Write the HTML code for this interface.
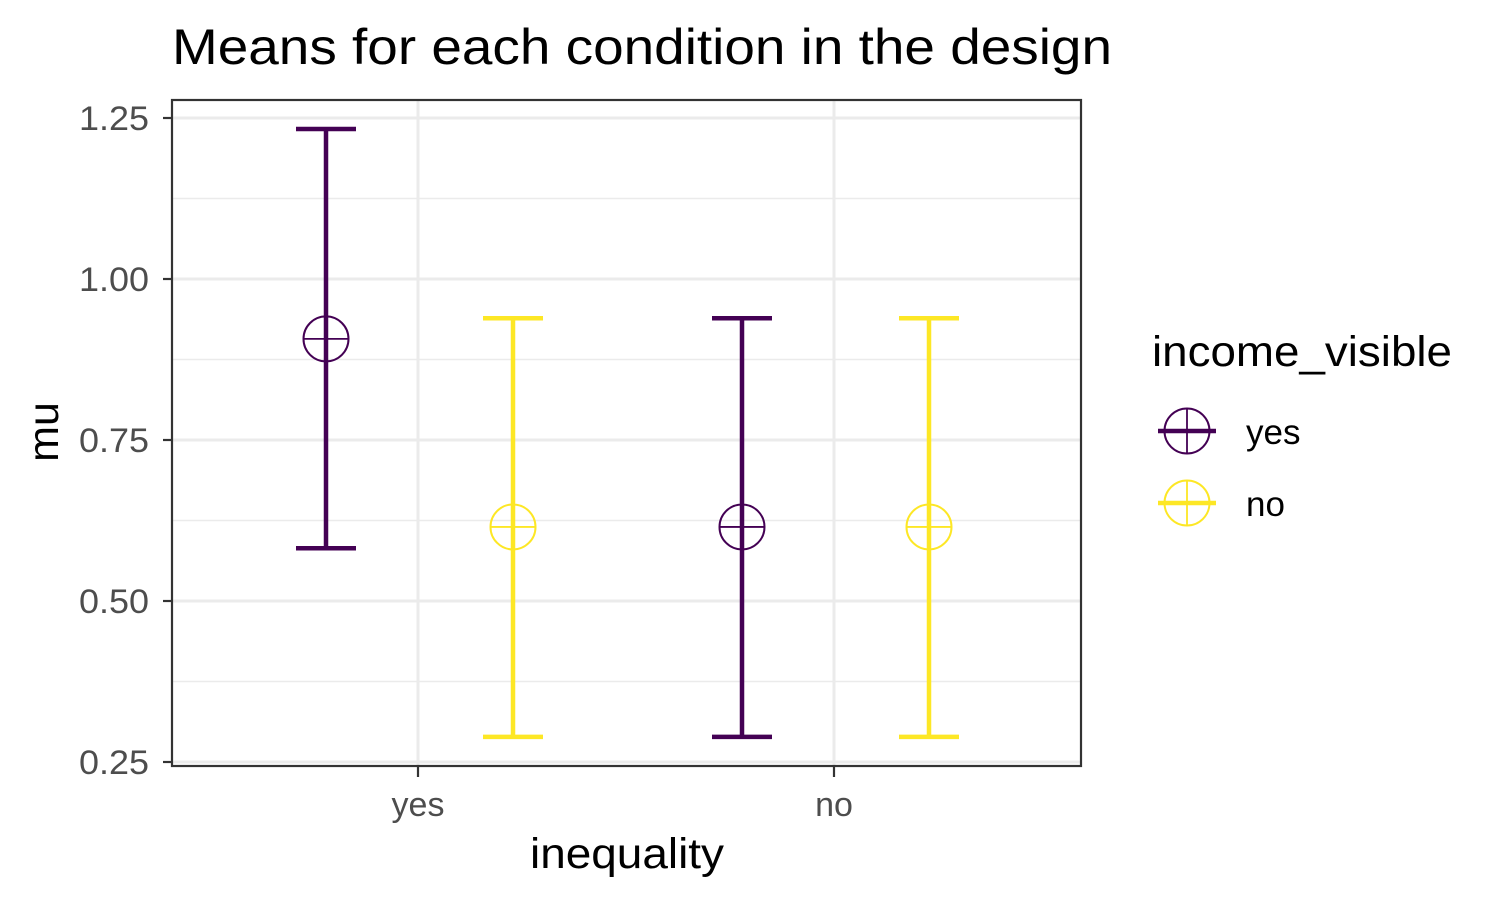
<!DOCTYPE html>
<html><head><meta charset="utf-8"><style>
body{margin:0;background:#fff;}
svg text{font-family:"Liberation Sans",Arial,sans-serif;}
</style></head><body>
<svg width="1500" height="900" viewBox="0 0 1500 900" xmlns="http://www.w3.org/2000/svg">
<rect width="1500" height="900" fill="#fff"/>
<text x="172" y="64" font-size="50" textLength="940" lengthAdjust="spacingAndGlyphs" fill="#000">Means for each condition in the design</text>
<g id="grid"></g>
<g id="marks"></g>
<rect x="172" y="100" width="909" height="666" fill="none" stroke="#333" stroke-width="2.2"/>
<g id="axes"></g>
<text x="530" y="868" font-size="43" textLength="194" lengthAdjust="spacingAndGlyphs" fill="#000">inequality</text>
<text transform="translate(58,432) rotate(-90)" font-size="43" text-anchor="middle" fill="#000">mu</text>
<text x="1152" y="366" font-size="43" textLength="300" lengthAdjust="spacingAndGlyphs" fill="#000">income_visible</text>
<g id="legend"></g>
</svg>
<script>
const categories = ["yes","no"];
const seriesNames = ["yes","no"];
const seriesColors = ["#440154","#FDE725"];
const means = [[0.907, 0.615],[0.615, 0.615]]; // [series][category]
const lowers = [[0.582, 0.289],[0.289, 0.289]];
const uppers = [[1.233, 0.939],[0.939, 0.939]];
const yTicks = [0.25, 0.50, 0.75, 1.00, 1.25];
const yTickLabels = ["0.25","0.50","0.75","1.00","1.25"];

const NS="http://www.w3.org/2000/svg";
function yScale(v){return 762 - (v-0.25)*644;}
function xScale(i){return 418 + i*416;}
const dodge=[-92, 95];
function mk(parent,tag,attrs){const e=document.createElementNS(NS,tag);for(const k in attrs)e.setAttribute(k,attrs[k]);parent.appendChild(e);return e;}
const grid=document.getElementById('grid'), axes=document.getElementById('axes'), marks=document.getElementById('marks'), legend=document.getElementById('legend');
for(let i=0;i<yTicks.length;i++){
  const y=yScale(yTicks[i]);
  const g=mk(grid,'line',{x1:172,x2:1081,y1:y,y2:y,stroke:'#ebebeb','stroke-width':3});
  
  
  if(i<yTicks.length-1){const ym=yScale((yTicks[i]+yTicks[i+1])/2);
    const m=mk(grid,'line',{x1:172,x2:1081,y1:ym,y2:ym,stroke:'#ebebeb','stroke-width':1.5});
    
    }
  const t=mk(axes,'line',{x1:163,x2:172,y1:y,y2:y,stroke:'#333','stroke-width':2.2});
  
  
  const l=mk(axes,'text',{x:149,y:y+12,'font-size':34,'text-anchor':'end',fill:'#4d4d4d',textLength:70,lengthAdjust:'spacingAndGlyphs'});l.textContent=yTickLabels[i];
  
  
}
categories.forEach((c,i)=>{
  const x=xScale(i);
  const g=mk(grid,'line',{x1:x,x2:x,y1:100,y2:766,stroke:'#ebebeb','stroke-width':3});
  
  
  const t=mk(axes,'line',{x1:x,x2:x,y1:766,y2:777,stroke:'#333','stroke-width':2.2});
  
  
  const l=mk(axes,'text',{x:x,y:816,'font-size':34,'text-anchor':'middle',fill:'#4d4d4d'});l.textContent=c;
  
  
});
seriesNames.forEach((s,si)=>{
  const col=seriesColors[si];
  categories.forEach((c,ci)=>{
    const x=xScale(ci)+dodge[si];
    const g=mk(marks,'g',{});
    
    
    const yu=yScale(uppers[si][ci]), yl=yScale(lowers[si][ci]), ym=yScale(means[si][ci]);
    mk(g,'line',{x1:x,x2:x,y1:yu,y2:yl,stroke:col,'stroke-width':4.5});
    mk(g,'line',{x1:x-30,x2:x+30,y1:yu,y2:yu,stroke:col,'stroke-width':4.5});
    mk(g,'line',{x1:x-30,x2:x+30,y1:yl,y2:yl,stroke:col,'stroke-width':4.5});
    const p=mk(marks,'g',{});
    
    
    mk(p,'circle',{cx:x,cy:ym,r:22.5,fill:'none',stroke:col,'stroke-width':2});
    mk(p,'line',{x1:x-22.5,x2:x+22.5,y1:ym,y2:ym,stroke:col,'stroke-width':1.8});
  });
  const ly=431+si*72;
  const k=mk(legend,'g',{});
  
  
  mk(k,'line',{x1:1158,x2:1216,y1:ly,y2:ly,stroke:col,'stroke-width':4.5});
  mk(k,'circle',{cx:1187,cy:ly,r:22.5,fill:'none',stroke:col,'stroke-width':2});
  mk(k,'line',{x1:1187,x2:1187,y1:ly-22.5,y2:ly+22.5,stroke:col,'stroke-width':1.8});
  const t=mk(k,'text',{x:1246,y:ly+13,'font-size':35,fill:'#000'});t.textContent=s;
});
</script>
</body></html>
